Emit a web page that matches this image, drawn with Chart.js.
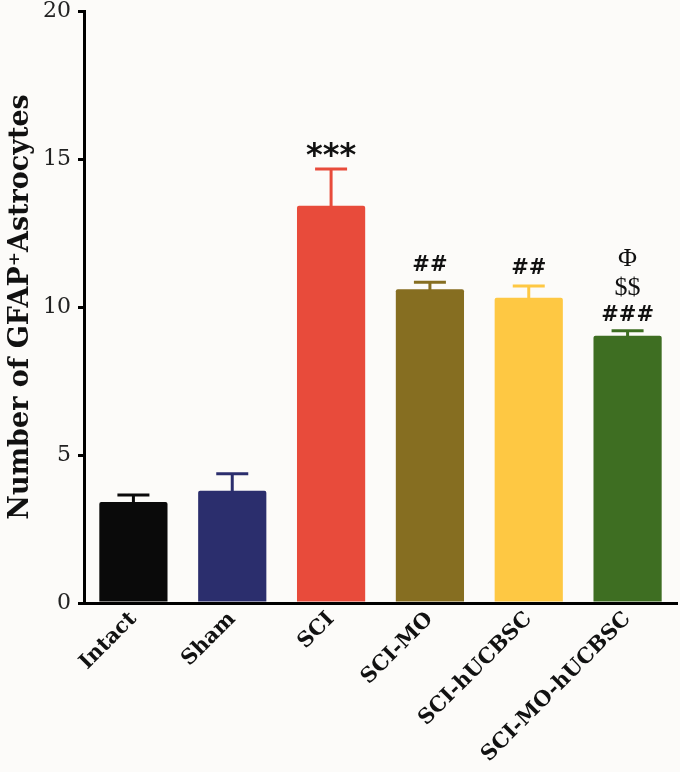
<!DOCTYPE html>
<html>
<head>
<meta charset="utf-8">
<script src="https://cdn.jsdelivr.net/npm/chart.js@4.4.1/dist/chart.umd.min.js"></script>
<style>
html,body{margin:0;padding:0;background:#fcfbf9;}
#wrap{width:680px;height:772px;}
</style>
</head>
<body>
<div id="wrap"><canvas id="c" width="680" height="772"></canvas></div>
<script>
const categories = ["Intact", "Sham", "SCI", "SCI-MO", "SCI-hUCBSC", "SCI-MO-hUCBSC"];
const means = [3.41, 3.79, 13.42, 10.60, 10.31, 9.03];
const sems = [0.24, 0.58, 1.24, 0.24, 0.40, 0.17];
const barColors = ["#0a0a0a", "#2b2e6d", "#e84b3b", "#866e21", "#fec843", "#3e6e22"];
const yTicks = [0, 5, 10, 15, 20];
const marks = [[], [], ["***"], ["##"], ["##"], ["###", "$$", "\u03A6"]];
const yTitle = "Number of GFAP\u207AAstrocytes";

const markStyle = {
  "***": {font: "bold 32px 'DejaVu Sans'", dy: 12},
  "##": {font: "bold 21px 'DejaVu Sans'", dy: 17},
  "###": {font: "bold 21px 'DejaVu Sans'", dy: 15},
  "$$": {font: "26px 'Liberation Serif'", dy: 43},
  "\u03A6": {font: "26px 'Liberation Serif'", dy: 72}
};

const bgPlugin = {
  id: 'bg',
  beforeDraw(chart) {
    const ctx = chart.ctx;
    ctx.save();
    ctx.fillStyle = '#fcfbf9';
    ctx.fillRect(0, 0, chart.width, chart.height);
    ctx.restore();
  }
};

const errPlugin = {
  id: 'err',
  afterDatasetsDraw(chart) {
    const ctx = chart.ctx;
    const meta = chart.getDatasetMeta(0);
    const ys = chart.scales.y;
    ctx.save();
    meta.data.forEach((bar, i) => {
      const x = bar.x;
      const y0 = ys.getPixelForValue(means[i]);
      const y1 = ys.getPixelForValue(means[i] + sems[i]);
      ctx.strokeStyle = barColors[i];
      ctx.lineWidth = 3;
      ctx.beginPath();
      ctx.moveTo(x, y0 + 1);
      ctx.lineTo(x, y1);
      ctx.stroke();
      ctx.beginPath();
      ctx.moveTo(x - 16, y1);
      ctx.lineTo(x + 16, y1);
      ctx.stroke();
      ctx.fillStyle = '#111';
      ctx.textAlign = 'center';
      ctx.textBaseline = 'middle';
      marks[i].forEach(m => {
        const st = markStyle[m];
        ctx.font = st.font;
        ctx.fillText(m, x, y1 - st.dy);
      });
    });
    ctx.restore();
  }
};

new Chart(document.getElementById('c'), {
  type: 'bar',
  data: {
    labels: categories,
    datasets: [{
      data: means,
      backgroundColor: barColors,
      borderRadius: 2,
      borderSkipped: 'bottom',
      barPercentage: 0.69,
      categoryPercentage: 1.0
    }]
  },
  options: {
    responsive: false,
    animation: false,
    devicePixelRatio: 1,
    layout: {padding: {top: 11, right: 3, left: 0, bottom: 0}},
    plugins: {legend: {display: false}, tooltip: {enabled: false}},
    scales: {
      x: {
        offset: true,
        grid: {display: false},
        border: {display: true, color: '#000', width: 3},
        ticks: {
          color: '#111',
          minRotation: 45, maxRotation: 45,
          padding: -4,
          font: {family: "'DejaVu Serif'", weight: 'bold', size: 21}
        },
        afterFit(scale) { scale.height = 169; scale.paddingLeft = 0; scale.paddingRight = 0; }
      },
      y: {
        min: 0, max: 20,
        afterBuildTicks(scale) { scale.ticks = yTicks.map(v => ({value: v})); },
        grid: {display: true, drawOnChartArea: false, drawTicks: true, tickLength: 6, color: '#000', lineWidth: 3},
        border: {display: true, color: '#000', width: 3},
        ticks: {
          color: '#222',
          padding: 7,
          font: {family: "'DejaVu Serif'", size: 22, lineHeight: 1}
        },
        title: {
          display: true,
          text: yTitle,
          color: '#111',
          padding: {top: 5, bottom: 0},
          font: {family: "'DejaVu Serif'", weight: 'bold', size: 27}
        },
        afterFit(scale) { scale.width = 84; scale.paddingTop = 0; scale.paddingBottom = 0; }
      }
    }
  },
  plugins: [bgPlugin, errPlugin]
});
</script>
</body>
</html>
